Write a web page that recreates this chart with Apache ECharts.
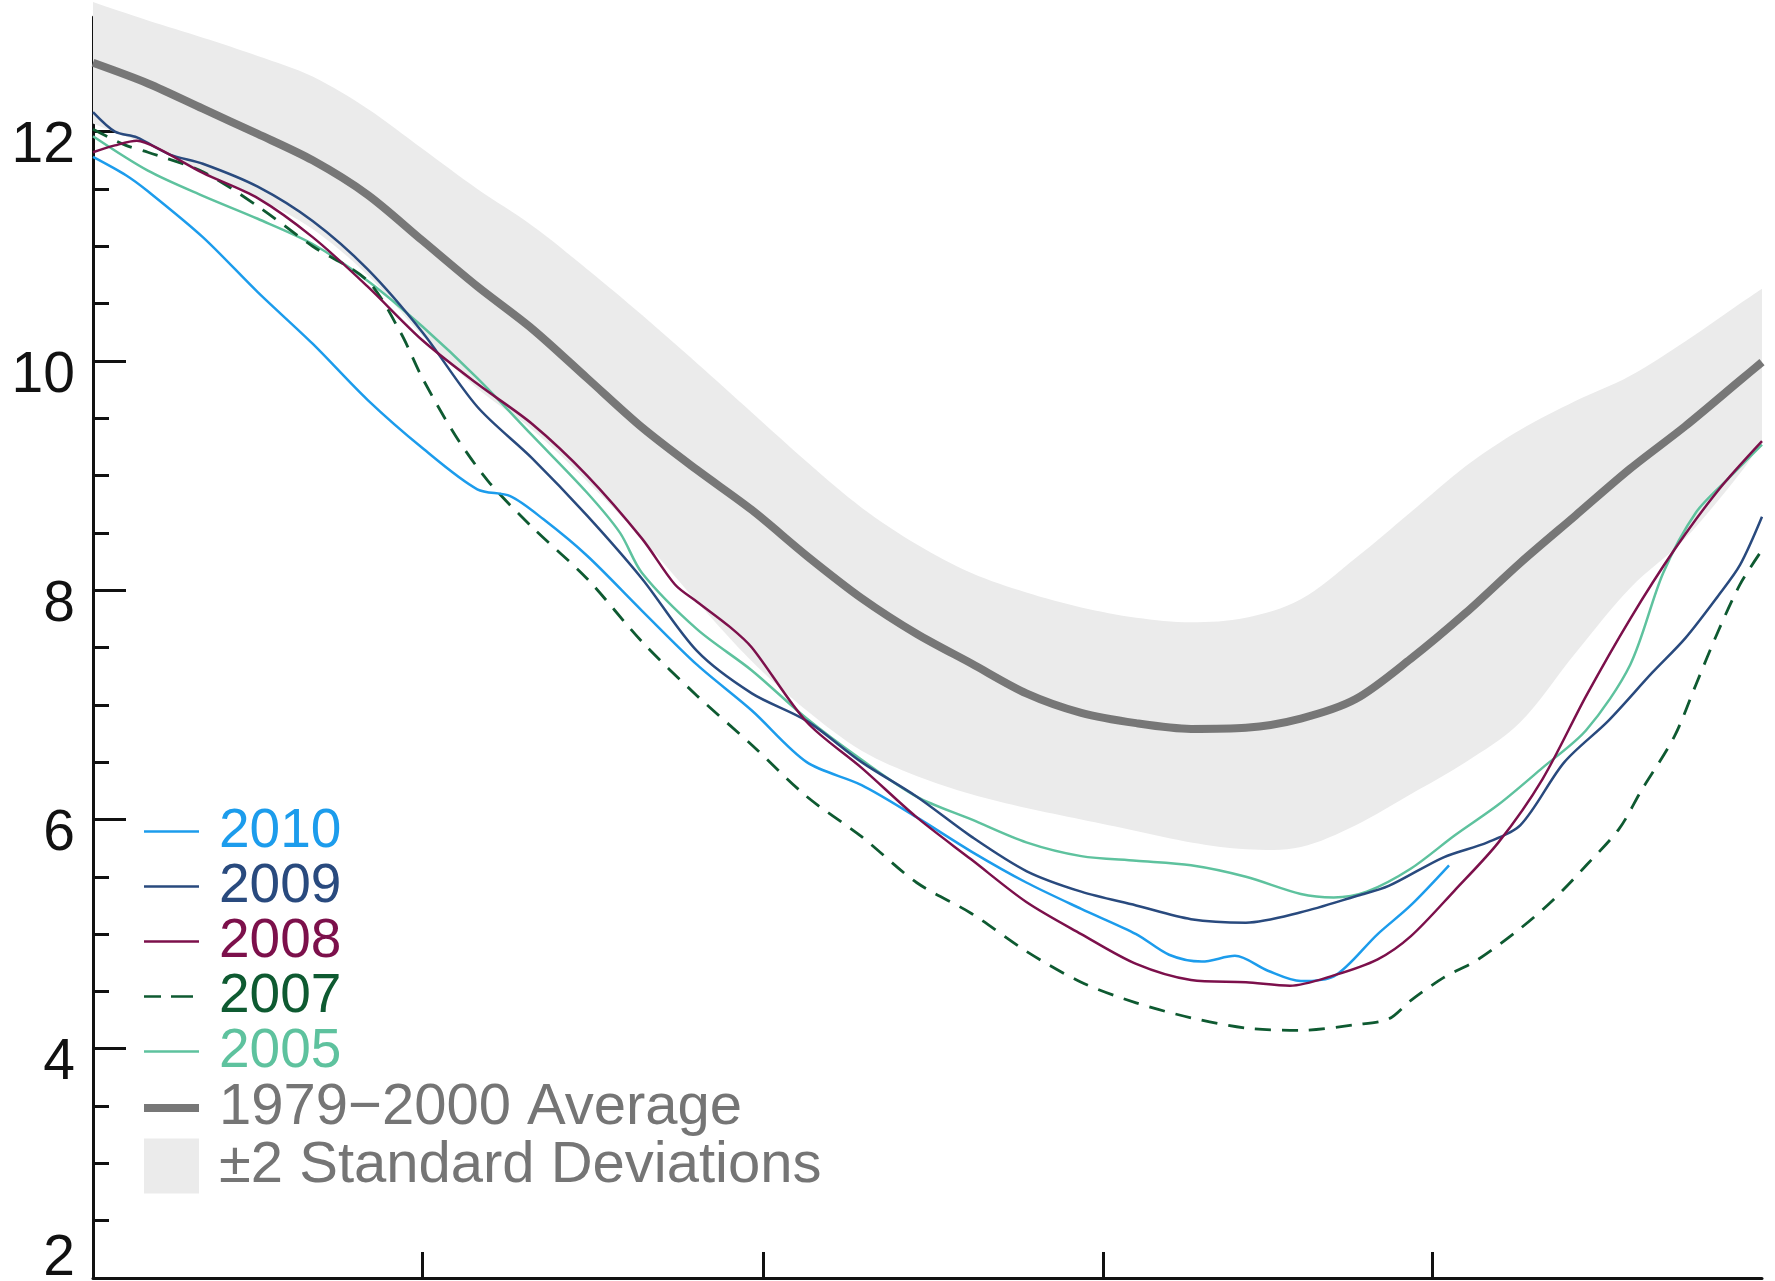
<!DOCTYPE html>
<html>
<head>
<meta charset="utf-8">
<script src="https://cdn.jsdelivr.net/npm/echarts@6/dist/echarts.min.js"></script>
<style>
html,body{margin:0;padding:0;background:#ffffff;}
#chart{width:1775px;height:1281px;}
</style>
</head>
<body>
<div id="chart"></div>
<script>
// Day index: 0 = Jun 1, 152 = Oct 31
const X_TICKS = [30, 61, 92, 122];
const Y_MAJOR_TICKS = [2, 4, 6, 8, 10, 12];
const Y_MINOR_TICKS = [2.5, 3, 3.5, 4.5, 5, 5.5, 6.5, 7, 7.5, 8.5, 9, 9.5, 10.5, 11, 11.5, 12.5, 13];

const CLIM_DAYS = [0,5,10,15,20,25,30,35,40,45,50,55,60,65,70,75,80,85,90,95,100,105,110,115,120,125,130,135,140,145,150,152];
const AVG = [12.6,12.42,12.2,11.98,11.75,11.45,11.05,10.65,10.28,9.85,9.42,9.05,8.7,8.3,7.93,7.62,7.36,7.1,6.93,6.84,6.79,6.8,6.88,7.05,7.4,7.8,8.24,8.65,9.06,9.43,9.83,9.99];
const BAND_UPPER = [13.13,12.97,12.82,12.66,12.48,12.2,11.85,11.5,11.18,10.8,10.4,9.98,9.55,9.12,8.72,8.4,8.15,7.98,7.85,7.76,7.72,7.76,7.92,8.28,8.68,9.08,9.4,9.65,9.87,10.17,10.5,10.63];
const BAND_LOWER = [12.07,11.88,11.65,11.42,11.15,10.75,10.22,9.76,9.4,8.95,8.45,7.9,7.38,6.95,6.6,6.38,6.22,6.1,6.0,5.9,5.8,5.74,5.76,5.95,6.22,6.5,6.85,7.45,8.02,8.45,9.02,9.3];

const D2010 = [0,3,5,10,15,20,25,30,35,38,41,45,50,55,60,65,70,75,80,85,90,95,98,101,104,107,110,113,117,120,123.5];
const V2010 = [11.78,11.62,11.48,11.08,10.6,10.15,9.66,9.24,8.88,8.82,8.62,8.3,7.82,7.35,6.95,6.5,6.3,6.02,5.72,5.45,5.22,5.0,4.82,4.76,4.81,4.68,4.59,4.63,5.0,5.25,5.6];

const D2009 = [0,2,4,7,10,15,20,25,30,35,40,45,50,55,60,65,70,75,80,85,90,95,100,105,110,115,118,123,127,130,134,138,142,145,148,150,152];
const V2009 = [12.17,12.0,11.95,11.8,11.72,11.52,11.22,10.8,10.25,9.6,9.15,8.65,8.1,7.47,7.1,6.86,6.5,6.2,5.85,5.55,5.37,5.25,5.13,5.1,5.19,5.33,5.42,5.67,5.8,5.95,6.5,6.86,7.28,7.58,7.95,8.22,8.64];

const D2008 = [0,2,4,6,10,15,20,25,30,35,40,45,50,53,55,58,60,65,70,75,80,85,90,95,100,105,109,113,117,120,124,128,132,136,140,144,148,152];
const V2008 = [11.82,11.88,11.92,11.85,11.64,11.42,11.08,10.65,10.18,9.8,9.45,9.0,8.45,8.05,7.9,7.68,7.5,6.85,6.45,6.02,5.65,5.28,5.0,4.74,4.6,4.58,4.55,4.64,4.78,4.98,5.38,5.8,6.35,7.08,7.75,8.35,8.87,9.3];

const D2007 = [0,3,5,10,15,20,25,28,30,33,36,40,45,50,55,60,65,70,75,80,85,90,95,100,105,110,115,118,120,123,126,130,133,136,139,141,144,146,148,150,152];
const V2007 = [12.02,11.88,11.82,11.65,11.35,11.0,10.7,10.25,9.85,9.35,8.95,8.55,8.1,7.55,7.08,6.65,6.2,5.85,5.45,5.18,4.85,4.58,4.4,4.27,4.18,4.16,4.21,4.26,4.42,4.62,4.77,5.05,5.3,5.6,5.92,6.25,6.72,7.18,7.64,8.05,8.35];

const D2005 = [0,5,10,15,20,25,30,35,40,45,48,50,55,60,65,70,75,80,85,90,95,100,105,110,113,116,120,124,128,132,136,140,143,146,149,152];
const V2005 = [11.96,11.66,11.44,11.24,11.02,10.7,10.3,9.85,9.35,8.85,8.5,8.15,7.66,7.3,6.88,6.52,6.2,6.0,5.8,5.68,5.64,5.6,5.5,5.35,5.32,5.37,5.57,5.86,6.13,6.45,6.78,7.35,8.15,8.68,8.98,9.27];

const COLORS = {
  y2010: '#1c9cec',
  y2009: '#294a7e',
  y2008: '#7c104b',
  y2007: '#0e5a31',
  y2005: '#5ec29e',
  avg: '#777777',
  band: '#ebebeb',
  legendGray: '#757575'
};

const FONT = '"Liberation Sans", Arial, Helvetica, sans-serif';

function pairs(days, vals) { return days.map(function (d, i) { return [d, vals[i]]; }); }

// Catmull-Rom densification of pixel points (rendering only)
function smoothPixels(pts, segs) {
  const out = [];
  const n = pts.length;
  for (let i = 0; i < n - 1; i++) {
    const p0 = pts[Math.max(0, i - 1)], p1 = pts[i], p2 = pts[i + 1], p3 = pts[Math.min(n - 1, i + 2)];
    for (let s = 0; s < segs; s++) {
      const t = s / segs, t2 = t * t, t3 = t2 * t;
      const x = 0.5 * ((2 * p1[0]) + (-p0[0] + p2[0]) * t + (2 * p0[0] - 5 * p1[0] + 4 * p2[0] - p3[0]) * t2 + (-p0[0] + 3 * p1[0] - 3 * p2[0] + p3[0]) * t3);
      const y = 0.5 * ((2 * p1[1]) + (-p0[1] + p2[1]) * t + (2 * p0[1] - 5 * p1[1] + 4 * p2[1] - p3[1]) * t2 + (-p0[1] + 3 * p1[1] - 3 * p2[1] + p3[1]) * t3);
      out.push([x, y]);
    }
  }
  out.push(pts[n - 1]);
  return out;
}

function lineSeries(name, days, vals, color, width, dash, z) {
  return {
    type: 'line', name: name, data: pairs(days, vals),
    symbol: 'none', showSymbol: false, smooth: 0.3, z: z,
    lineStyle: { color: color, width: width, type: dash || 'solid', cap: 'butt', join: 'round' },
    itemStyle: { color: color },
    emphasis: { disabled: true }, silent: true
  };
}

const chart = echarts.init(document.getElementById('chart'), null, { renderer: 'canvas' });

const option = {
  animation: false,
  backgroundColor: '#ffffff',
  grid: { left: 93, right: 13, top: 17, bottom: 3, containLabel: false, outerBoundsMode: 'none' },
  xAxis: {
    type: 'value', min: 0, max: 152,
    axisLine: { show: true, onZero: false, lineStyle: { color: '#111111', width: 3 } },
    axisTick: { show: true, inside: true, length: 26, customValues: X_TICKS, lineStyle: { color: '#111111', width: 3 } },
    axisLabel: { show: false },
    splitLine: { show: false }
  },
  yAxis: [
    {
      type: 'value', min: 2, max: 13,
      axisLine: { show: true, onZero: false, lineStyle: { color: '#111111', width: 3 } },
      axisTick: { show: true, inside: true, length: 33, customValues: Y_MAJOR_TICKS, lineStyle: { color: '#111111', width: 3 } },
      axisLabel: {
        show: true, customValues: Y_MAJOR_TICKS, margin: 18,
        formatter: function (v) { return v === 2 ? '{b|' + v + '}' : '{a|' + v + '}'; },
        rich: {
          a: { fontSize: 57, fontFamily: FONT, color: '#111111', padding: [30, 0, 0, 0] },
          b: { fontSize: 57, fontFamily: FONT, color: '#111111', padding: [0, 0, 38, 0] }
        }
      },
      splitLine: { show: false }
    },
    {
      type: 'value', min: 2, max: 13, position: 'left',
      axisLine: { show: false },
      axisTick: { show: true, inside: true, length: 16, customValues: Y_MINOR_TICKS, lineStyle: { color: '#111111', width: 3 } },
      axisLabel: { show: false },
      splitLine: { show: false }
    }
  ],
  legend: {
    orient: 'vertical', left: 140, top: 804, padding: 0,
    itemWidth: 55, itemHeight: 55, itemGap: 0,
    selectedMode: false,
    lineStyle: { width: 2.5 },
    itemStyle: { opacity: 0 },
    textStyle: { fontSize: 55, fontFamily: FONT, lineHeight: 55, padding: [0, 0, 0, 15] },
    data: [
      { name: '2010', textStyle: { color: COLORS.y2010 } },
      { name: '2009', textStyle: { color: COLORS.y2009 } },
      { name: '2008', textStyle: { color: COLORS.y2008 } },
      { name: '2007', textStyle: { color: COLORS.y2007 }, lineStyle: { type: [17, 10, 22, 10] } },
      { name: '2005', textStyle: { color: COLORS.y2005 } },
      { name: '1979\u22122000 Average', textStyle: { color: COLORS.legendGray, fontSize: 58 }, lineStyle: { width: 8 } },
      { name: '\u00b12 Standard Deviations', icon: 'rect', textStyle: { color: COLORS.legendGray, fontSize: 58 }, itemStyle: { color: COLORS.band, opacity: 1 } }
    ]
  },
  series: [
    {
      type: 'custom', name: '\u00b12 Standard Deviations',
      data: [[0, 2]], z: 1, silent: true, clip: false,
      itemStyle: { color: COLORS.band },
      renderItem: function (params, api) {
        if (params.dataIndex !== 0) return null;
        const up = [], lo = [];
        for (let i = 0; i < CLIM_DAYS.length; i++) {
          up.push(api.coord([CLIM_DAYS[i], BAND_UPPER[i]]));
          lo.push(api.coord([CLIM_DAYS[i], BAND_LOWER[i]]));
        }
        const pts = smoothPixels(up, 8).concat(smoothPixels(lo, 8).reverse());
        return { type: 'polygon', shape: { points: pts }, style: { fill: COLORS.band } };
      }
    },
    lineSeries('1979\u22122000 Average', CLIM_DAYS, AVG, COLORS.avg, 8, null, 3),
    lineSeries('2005', D2005, V2005, COLORS.y2005, 2.5, null, 4),
    lineSeries('2007', D2007, V2007, COLORS.y2007, 2.8, [16, 11], 5),
    lineSeries('2010', D2010, V2010, COLORS.y2010, 2.5, null, 6),
    lineSeries('2009', D2009, V2009, COLORS.y2009, 2.5, null, 7),
    lineSeries('2008', D2008, V2008, COLORS.y2008, 2.5, null, 8)
  ]
};

chart.setOption(option);
</script>
</body>
</html>
